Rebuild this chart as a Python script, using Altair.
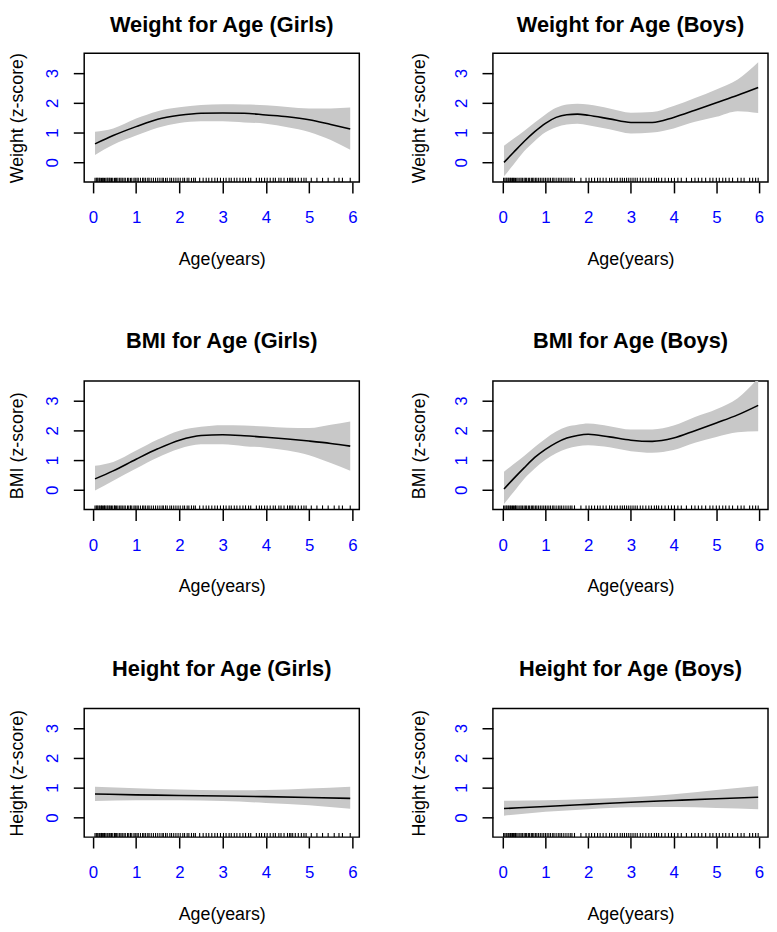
import altair as alt
import pandas as pd

FONT = "Liberation Sans"

# ---------------- data ----------------
# Weight for Age (Girls)
gw_age = [0.05, 0.47, 1.0, 1.5, 2.0, 2.5, 3.0, 3.5, 4.0, 4.5, 5.0, 5.5, 5.95]
gw_fit = [0.62, 0.90, 1.20, 1.45, 1.58, 1.65, 1.66, 1.65, 1.59, 1.53, 1.43, 1.27, 1.12]
gw_hi = [1.03, 1.14, 1.47, 1.72, 1.85, 1.93, 1.95, 1.94, 1.92, 1.86, 1.81, 1.81, 1.84]
gw_lo = [0.25, 0.59, 0.90, 1.16, 1.32, 1.38, 1.38, 1.34, 1.30, 1.18, 1.02, 0.75, 0.42]

# Weight for Age (Boys)
bw_age = [0.03, 0.25, 0.5, 0.75, 1.0, 1.25, 1.5, 1.75, 2.0, 2.5, 3.0, 3.5, 4.0, 4.5, 5.0, 5.5, 5.98]
bw_fit = [0.00, 0.33, 0.70, 1.03, 1.31, 1.51, 1.60, 1.62, 1.58, 1.46, 1.34, 1.34, 1.51, 1.75, 2.00, 2.25, 2.51]
bw_hi = [0.56, 0.79, 1.05, 1.34, 1.61, 1.83, 1.94, 1.97, 1.94, 1.81, 1.67, 1.69, 1.89, 2.16, 2.45, 2.78, 3.36]
bw_lo = [-0.47, -0.08, 0.37, 0.72, 1.01, 1.18, 1.27, 1.30, 1.25, 1.11, 0.97, 1.00, 1.14, 1.36, 1.53, 1.72, 1.66]

# BMI for Age (Girls)
gb_age = [0.05, 0.47, 1.0, 1.5, 2.0, 2.5, 3.0, 3.5, 4.0, 4.5, 5.0, 5.5, 5.95]
gb_fit = [0.37, 0.64, 1.03, 1.38, 1.67, 1.83, 1.85, 1.82, 1.77, 1.71, 1.64, 1.56, 1.47]
gb_hi = [0.81, 0.94, 1.32, 1.69, 1.99, 2.12, 2.17, 2.16, 2.13, 2.09, 2.08, 2.19, 2.30]
gb_lo = [-0.02, 0.31, 0.72, 1.09, 1.38, 1.53, 1.53, 1.47, 1.42, 1.32, 1.16, 0.90, 0.64]

# BMI for Age (Boys)
bb_age = [0.03, 0.25, 0.5, 0.75, 1.0, 1.25, 1.5, 1.75, 2.0, 2.5, 3.0, 3.5, 4.0, 4.5, 5.0, 5.5, 5.98]
bb_fit = [0.03, 0.37, 0.74, 1.09, 1.36, 1.58, 1.74, 1.83, 1.87, 1.78, 1.67, 1.63, 1.74, 1.99, 2.25, 2.52, 2.84]
bb_hi = [0.61, 0.86, 1.14, 1.44, 1.72, 1.96, 2.12, 2.19, 2.23, 2.14, 2.03, 2.03, 2.16, 2.45, 2.71, 3.08, 3.75]
bb_lo = [-0.47, -0.08, 0.37, 0.72, 1.01, 1.23, 1.38, 1.47, 1.50, 1.43, 1.30, 1.25, 1.34, 1.58, 1.78, 1.94, 1.97]

# Height for Age (Girls)
gh_age = [0.05, 1.0, 2.0, 3.0, 4.0, 5.0, 5.95]
gh_fit = [0.79, 0.76, 0.74, 0.72, 0.70, 0.67, 0.64]
gh_hi = [1.03, 0.98, 0.94, 0.91, 0.92, 0.97, 1.03]
gh_lo = [0.55, 0.58, 0.58, 0.55, 0.49, 0.41, 0.29]

# Height for Age (Boys)
bh_age = [0.03, 1.0, 2.0, 3.0, 4.0, 5.0, 5.98]
bh_fit = [0.30, 0.37, 0.44, 0.51, 0.57, 0.63, 0.68]
bh_hi = [0.56, 0.58, 0.62, 0.68, 0.78, 0.92, 1.06]
bh_lo = [0.06, 0.19, 0.28, 0.34, 0.35, 0.32, 0.28]

# observed ages (rug)
girls_rug = [0.05, 0.08, 0.1, 0.12, 0.15, 0.17, 0.2, 0.22, 0.25, 0.27, 0.3, 0.33, 0.35, 0.38,
             0.4, 0.43, 0.46, 0.5, 0.52, 0.55, 0.58, 0.62, 0.65, 0.68, 0.72, 0.75, 0.8, 0.83,
             0.87, 0.9, 0.95, 0.98, 1.02, 1.05, 1.1, 1.15, 1.18, 1.22, 1.27, 1.3, 1.35, 1.4,
             1.45, 1.5, 1.55, 1.6, 1.63, 1.68, 1.72, 1.78, 1.82, 1.87, 1.92, 1.97, 2.02, 2.08,
             2.12, 2.18, 2.22, 2.28, 2.33, 2.37, 2.47, 2.55, 2.62, 2.68, 2.75, 2.82, 2.88, 2.95,
             3.02, 3.08, 3.15, 3.2, 3.27, 3.33, 3.4, 3.47, 3.53, 3.6, 3.65, 3.78, 3.85, 3.9,
             3.97, 4.03, 4.1, 4.17, 4.22, 4.3, 4.35, 4.42, 4.5, 4.55, 4.58, 4.62, 4.68, 4.75,
             4.82, 4.88, 4.93, 5.05, 5.18, 5.31, 5.44, 5.58, 5.69, 5.77, 5.95]
boys_rug = [0.02, 0.05, 0.08, 0.1, 0.13, 0.15, 0.18, 0.2, 0.23, 0.25, 0.28, 0.3, 0.33, 0.36,
            0.4, 0.43, 0.46, 0.5, 0.53, 0.56, 0.6, 0.63, 0.67, 0.7, 0.73, 0.77, 0.8, 0.84,
            0.88, 0.92, 0.96, 1.0, 1.04, 1.08, 1.12, 1.17, 1.2, 1.25, 1.3, 1.34, 1.38, 1.43,
            1.48, 1.53, 1.58, 1.62, 1.68, 1.83, 1.95, 2.02, 2.08, 2.15, 2.22, 2.28, 2.35, 2.42,
            2.5, 2.55, 2.62, 2.68, 2.75, 2.8, 2.85, 2.9, 2.95, 3.0, 3.05, 3.1, 3.15, 3.22,
            3.28, 3.35, 3.42, 3.48, 3.55, 3.6, 3.65, 3.72, 3.8, 3.88, 3.95, 4.02, 4.1, 4.18,
            4.3, 4.42, 4.5, 4.58, 4.66, 4.75, 4.85, 4.92, 5.0, 5.07, 5.15, 5.22, 5.3, 5.38,
            5.5, 5.58, 5.65, 5.78, 5.85, 5.92, 5.98]

x_ticks = [0, 1, 2, 3, 4, 5, 6]
y_ticks = [0, 1, 2, 3]

# ---------------- layout / style ----------------
Y_DOM = [-0.66, 3.66]
GIRLS_XDOM = [-0.2, 6.16]
BOYS_XDOM = [-0.23, 6.21]
W = 278
H = 130
BAND = "#C8C8C8"


def panel(title, ytitle, ages, fit, lo, hi, rug, xdom, ytitle_x, toff, interp):
    df = pd.DataFrame({"age": ages, "fit": fit, "lo": lo, "hi": hi})
    rdf = pd.DataFrame({"age": rug})
    xs = alt.Scale(domain=xdom, nice=False, zero=False)
    ys = alt.Scale(domain=Y_DOM, nice=False, zero=False)
    xaxis = alt.Axis(values=x_ticks, tickSize=11, tickWidth=1.5, tickColor="black",
                     domain=False, grid=False, labelColor="#0000FF", labelFontSize=17,
                     labelFont=FONT, labelPadding=17, labelFlush=False, labelOverlap=False,
                     title="Age(years)", titleFontSize=18, titleFont=FONT,
                     titleFontWeight="normal", titleColor="black",
                     titleBaseline="alphabetic", titleAlign="center",
                     titleX=W / 2, titleY=83)
    yaxis = alt.Axis(values=y_ticks, tickSize=11, tickWidth=1.5, tickColor="black",
                     domain=False, grid=False, labelColor="#0000FF", labelFontSize=17,
                     labelFont=FONT, labelAngle=270, labelAlign="center",
                     labelBaseline="alphabetic", labelPadding=15.7, labelFlush=False,
                     labelOverlap=False,
                     title=ytitle, titleFontSize=18, titleFont=FONT,
                     titleFontWeight="normal", titleColor="black", titleAngle=270,
                     titleAlign="center", titleBaseline="alphabetic",
                     titleX=ytitle_x, titleY=H / 2)
    band = alt.Chart(df).mark_area(color=BAND, opacity=1, interpolate=interp, clip=True).encode(
        x=alt.X("age:Q", scale=xs, axis=xaxis, title="Age(years)"),
        y=alt.Y("lo:Q", scale=ys, axis=yaxis, title=ytitle),
        y2="hi:Q",
    )
    line = alt.Chart(df).mark_line(color="black", strokeWidth=1.6, interpolate=interp, clip=True).encode(
        x=alt.X("age:Q", scale=xs, title="Age(years)"),
        y=alt.Y("fit:Q", scale=ys, title=ytitle),
    )
    rugs = alt.Chart(rdf).mark_rule(color="black", strokeWidth=1.1).encode(
        x=alt.X("age:Q", scale=xs, title="Age(years)"),
        y=alt.datum(Y_DOM[0]),
        y2=alt.datum(Y_DOM[0] + 0.14),
    )
    return alt.layer(band, line, rugs).properties(
        width=W, height=H,
        title=alt.TitleParams(title, fontSize=22, fontWeight="bold", font=FONT,
                              color="black", anchor="middle", baseline="top",
                              offset=toff),
    )


p1 = panel("Weight for Age (Girls)", "Weight (z-score)", gw_age, gw_fit, gw_lo, gw_hi,
           girls_rug, GIRLS_XDOM, -62, 16, "monotone")
p2 = panel("Weight for Age (Boys)", "Weight (z-score)", bw_age, bw_fit, bw_lo, bw_hi,
           boys_rug, BOYS_XDOM, -69, 16, "monotone")
p3 = panel("BMI for Age (Girls)", "BMI (z-score)", gb_age, gb_fit, gb_lo, gb_hi,
           girls_rug, GIRLS_XDOM, -62, 28, "monotone")
p4 = panel("BMI for Age (Boys)", "BMI (z-score)", bb_age, bb_fit, bb_lo, bb_hi,
           boys_rug, BOYS_XDOM, -69, 28, "monotone")
p5 = panel("Height for Age (Girls)", "Height (z-score)", gh_age, gh_fit, gh_lo, gh_hi,
           girls_rug, GIRLS_XDOM, -62, 28, "monotone")
p6 = panel("Height for Age (Boys)", "Height (z-score)", bh_age, bh_fit, bh_lo, bh_hi,
           boys_rug, BOYS_XDOM, -69, 28, "monotone")

chart = alt.concat(p1, p2, p3, p4, p5, p6, columns=2,
                   spacing={"row": 201, "column": 135}, bounds="flush").properties(
    padding=0, background="white"
).configure_view(stroke="black", strokeWidth=1.5)

chart.save("out.html", embed_options={"renderer": "svg", "actions": False})
